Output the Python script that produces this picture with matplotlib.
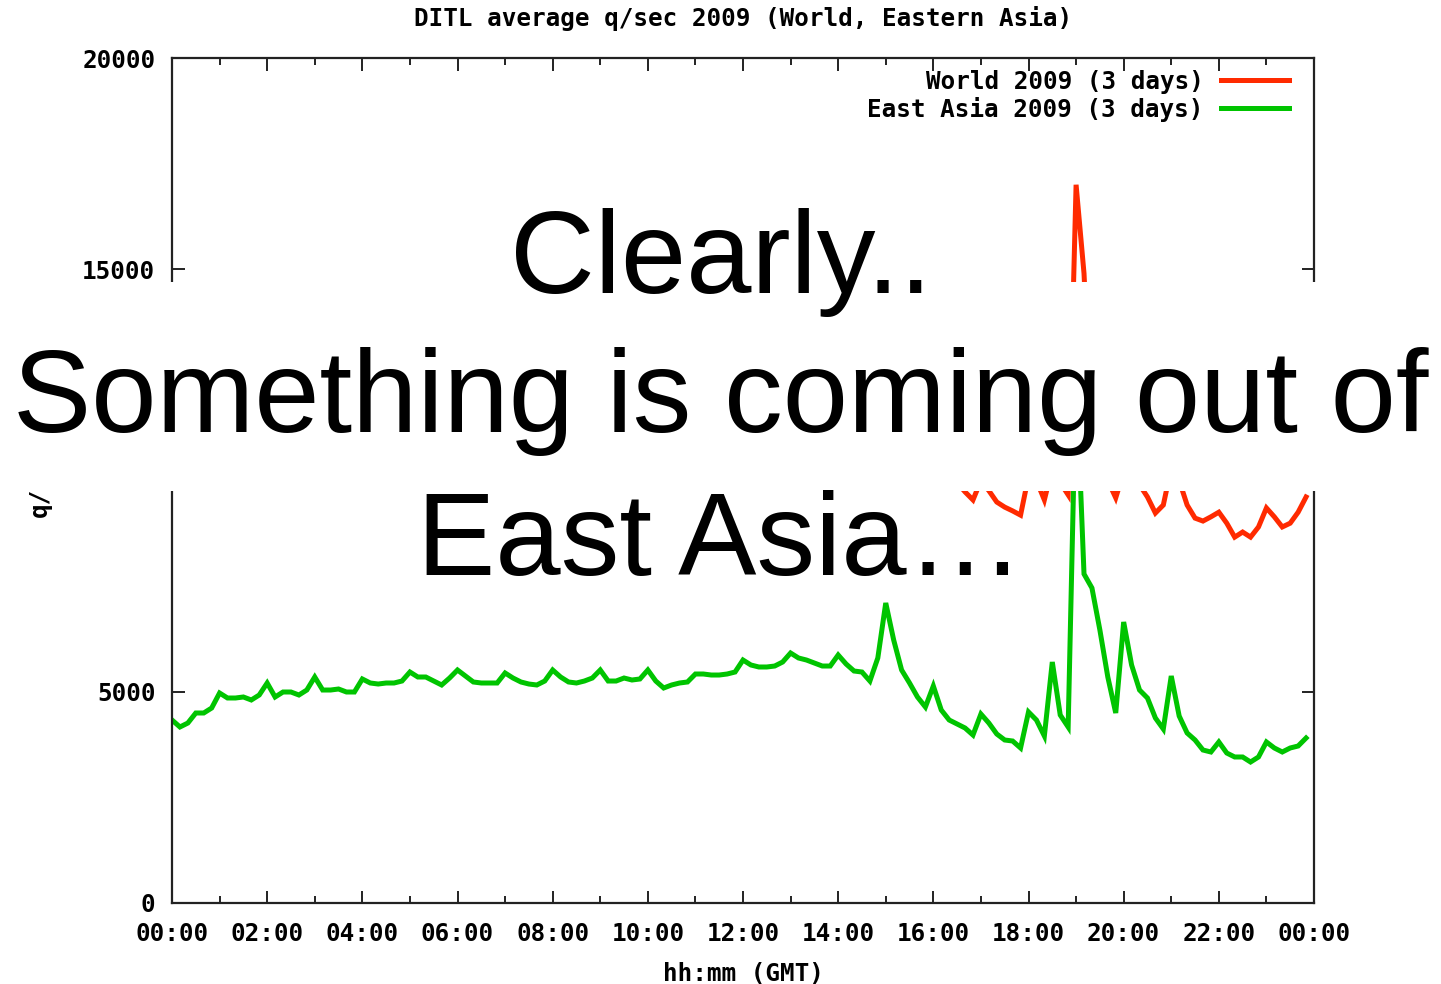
import numpy as np
import matplotlib
matplotlib.use("Agg")
import matplotlib.pyplot as plt
from matplotlib.patches import Rectangle

# Average queries per second, sampled every 10 minutes from 00:00 to 23:50 GMT
east_asia_qps = [
    4331, 4166, 4260, 4497, 4497, 4615, 4970, 4852, 4852, 4876, 4805, 4923,
    5207, 4876, 4994, 4994, 4923, 5041, 5349, 5041, 5041, 5065, 4994, 4994,
    5302, 5207, 5183, 5207, 5207, 5254, 5467, 5349, 5349, 5254, 5160, 5325,
    5515, 5373, 5231, 5207, 5207, 5207, 5444, 5325, 5231, 5183, 5160, 5254,
    5515, 5349, 5231, 5207, 5254, 5325, 5515, 5254, 5254, 5325, 5278, 5302,
    5515, 5254, 5089, 5160, 5207, 5231, 5420, 5420, 5396, 5396, 5420, 5467,
    5751, 5633, 5586, 5586, 5609, 5704, 5917, 5799, 5751, 5680, 5609, 5609,
    5870, 5657, 5491, 5467, 5254, 5800, 7101, 6225, 5515, 5207, 4876, 4639,
    5136, 4568, 4331, 4237, 4142, 3976, 4473, 4260, 4000, 3858, 3834, 3669,
    4521, 4331, 3953, 5704, 4450, 4166, 12500, 7787, 7456, 6462, 5349, 4497,
    6651, 5633, 5041, 4852, 4379, 4118, 5373, 4426, 4024, 3858, 3621, 3574,
    3811, 3550, 3456, 3456, 3337, 3456, 3811, 3669, 3574, 3669, 3716, 3905,
]

world_qps = [
    10600, 10450, 10500, 10700, 10750, 10800, 11100, 10950, 10900, 10950, 10900, 11000,
    11300, 11050, 11100, 11100, 11050, 11150, 11450, 11200, 11200, 11250, 11200, 11200,
    11500, 11350, 11300, 11300, 11300, 11350, 11600, 11450, 11450, 11350, 11300, 11450,
    11650, 11500, 11350, 11300, 11300, 11300, 11550, 11400, 11300, 11250, 11250, 11300,
    11550, 11350, 11250, 11200, 11250, 11300, 11500, 11250, 11250, 11300, 11250, 11250,
    11500, 11250, 11100, 11150, 11200, 11200, 11400, 11350, 11300, 11300, 11350, 11350,
    11650, 11550, 11500, 11500, 11500, 11550, 11750, 11650, 11600, 11550, 11500, 11500,
    11700, 11500, 11350, 11300, 11100, 11600, 12500, 11800, 11300, 11000, 10700, 10500,
    10800, 10400, 10200, 9950, 9730, 9540, 10000, 9760, 9490, 9370, 9280, 9180,
    10100, 10000, 9540, 10300, 9950, 9660, 17000, 14900, 11000, 10500, 10000, 9590,
    10200, 10300, 9900, 9610, 9230, 9420, 10300, 10000, 9420, 9110, 9040, 9140,
    9250, 8990, 8660, 8780, 8660, 8900, 9350, 9140, 8900, 8990, 9250, 9610,
]

series_labels = ["World 2009 (3 days)", "East Asia 2009 (3 days)"]
tick_hours = list(range(0, 25, 2))
tick_labels = ["00:00", "02:00", "04:00", "06:00", "08:00", "10:00", "12:00",
               "14:00", "16:00", "18:00", "20:00", "22:00", "00:00"]
y_ticks = [0, 5000, 10000, 15000, 20000]

hours = np.arange(len(east_asia_qps)) / 6.0

W, H, DPI = 1441, 984, 100
fig = plt.figure(figsize=(W / DPI, H / DPI), dpi=DPI)
fig.patch.set_facecolor("white")

ax = fig.add_axes([172 / W, (H - 903) / H, (1314 - 172) / W, (903 - 58) / H])

FS = 17.5
mono = {"family": "DejaVu Sans Mono", "weight": "bold", "size": FS}

ax.plot(hours, world_qps, color="#ff2a00", lw=3.6, solid_joinstyle="miter",
        label=series_labels[0])
ax.plot(hours, east_asia_qps, color="#00c400", lw=3.6, solid_joinstyle="miter",
        label=series_labels[1])

ax.set_xlim(0, 24)
ax.set_ylim(0, 20000)
ax.set_xticks(tick_hours)
ax.set_xticklabels(tick_labels, fontdict=mono)
ax.set_xticks(range(1, 24, 2), minor=True)
ax.set_yticks(y_ticks)
ax.set_yticklabels([str(v) for v in y_ticks], fontdict=mono)

ax.tick_params(which="both", direction="in", top=True, right=True,
               color="#222222", width=1.4)
ax.tick_params(which="major", length=9)
ax.tick_params(which="minor", length=5)
ax.tick_params(axis="x", which="major", pad=14)
ax.tick_params(axis="y", which="major", pad=12)
for s in ax.spines.values():
    s.set_color("#222222")
    s.set_linewidth(1.6)

ax.set_title("DITL average q/sec 2009 (World, Eastern Asia)", fontdict=mono, pad=23)
ax.set_xlabel("hh:mm (GMT)", fontdict=mono, labelpad=11)
ax.set_ylabel("q/sec", fontdict=mono, labelpad=22)

leg = ax.legend(loc="upper right", bbox_to_anchor=(0.978, 0.986),
                frameon=False, markerfirst=False,
                prop={"family": "DejaVu Sans Mono", "weight": "bold", "size": FS},
                handlelength=2.8, handletextpad=0.7, labelspacing=0.12,
                borderaxespad=0.0, borderpad=0.0)

# Callout banner drawn over the middle of the chart
fig.add_artist(Rectangle((0, (H - 491) / H), 1, (491 - 282) / H,
                         transform=fig.transFigure, facecolor="white",
                         edgecolor="none", zorder=5))

big = {"family": "Liberation Sans", "size": 84.5, "color": "black"}
fig.text(0.5, (H - 293) / H, "Clearly..", ha="center", va="baseline", zorder=6, **big)
fig.text(0.5, (H - 432) / H, "Something is coming out of", ha="center",
         va="baseline", zorder=6, **big)
fig.text(0.5, (H - 575) / H, "East Asia\u2026", ha="center", va="baseline",
         zorder=6, **big)

fig.savefig("out.png", dpi=DPI, facecolor="white")
